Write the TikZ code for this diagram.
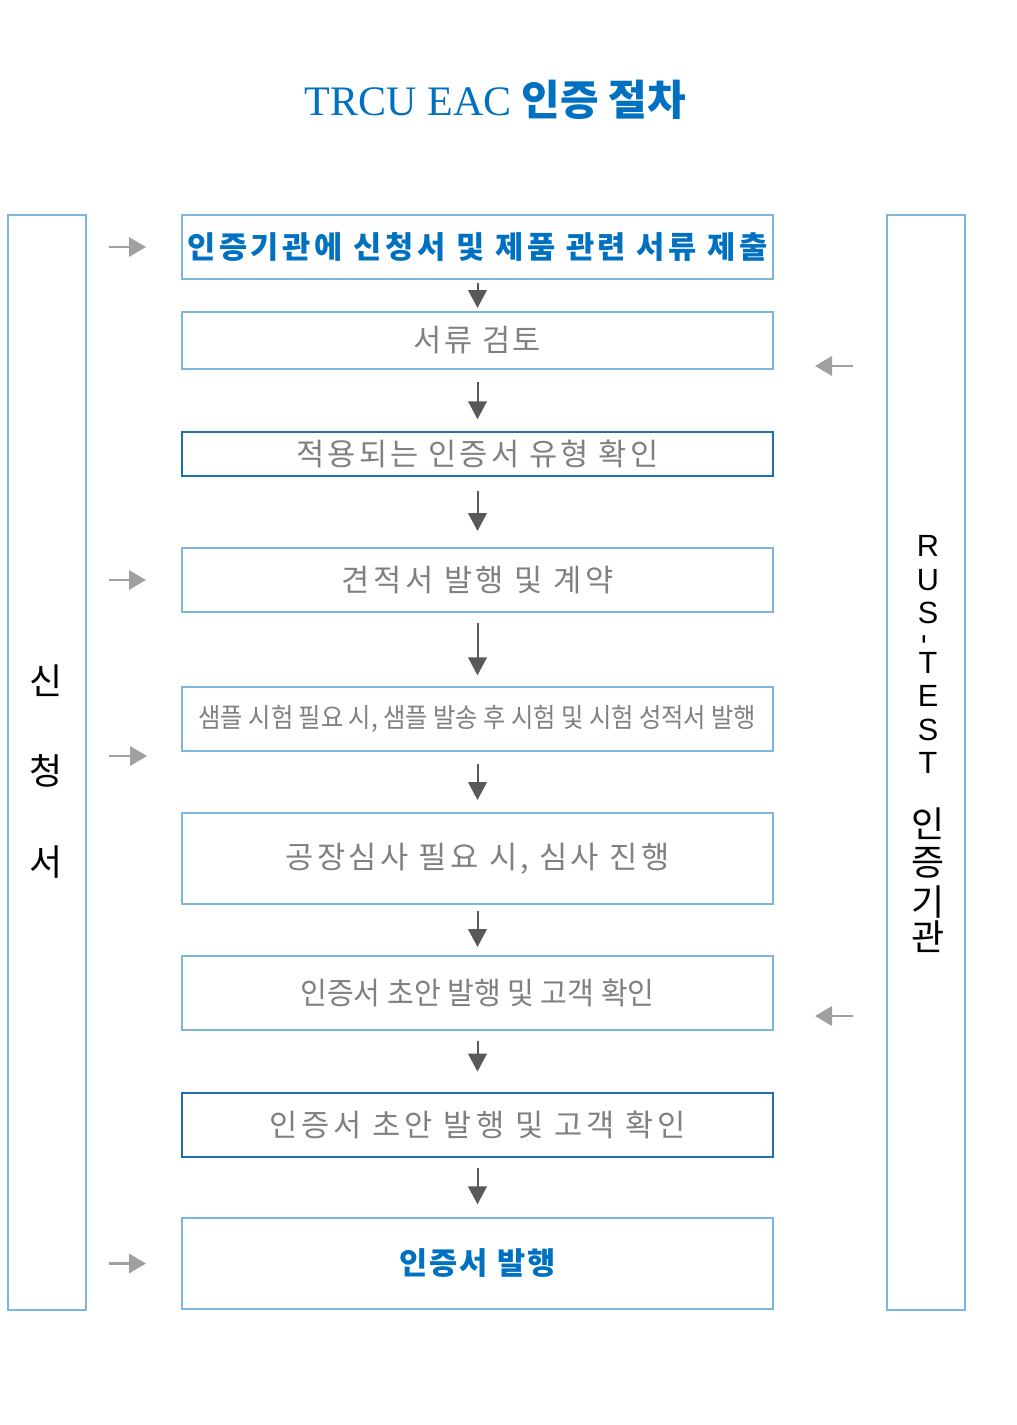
\documentclass[tikz,border=0pt]{standalone}
\usepackage{fontspec}
\setmainfont{Liberation Serif}
\setsansfont{Liberation Sans}
\newfontfamily\kr{Noto Sans CJK KR}
\usetikzlibrary{arrows.meta,positioning}

\definecolor{titleblue}{HTML}{0070C0}
\definecolor{lineblue}{HTML}{7DB6DD}
\definecolor{darkblue}{HTML}{1F6DB3}
\definecolor{txtgray}{HTML}{808080}
\definecolor{arrowdark}{HTML}{595959}
\definecolor{arrowlight}{HTML}{A0A0A0}

\tikzset{
  stepbox/.style={draw=lineblue, line width=1.5pt, minimum width=443.25pt, inner sep=0pt,
    text=txtgray, font=\kr\addfontfeature{LetterSpace=#1}\fontsize{23}{27}\selectfont},
  stepbox/.default=10,
  narrowbox/.style={stepbox, font=\kr\addfontfeature{FakeStretch=#1}\fontsize{23}{27}\selectfont},
  darkbox/.style={stepbox=#1, draw=darkblue, line width=1.1pt},
  darkbox/.default=10,
  keybox/.style={stepbox, text=titleblue,
    font=\kr\bfseries\addfontfeature{LetterSpace=#1}\fontsize{23}{27}\selectfont},
  keybox/.default=10,
  sidecol/.style={draw=lineblue, line width=1.5pt, minimum width=58.5pt, minimum height=821.25pt, inner sep=0pt},
  coltext/.style={inner sep=0pt, font=\kr\fontsize{27}{30}\selectfont},
  latintext/.style={inner sep=0pt, font=\sffamily\fontsize{23}{26}\selectfont},
  flowarrow/.style={draw=arrowdark, line width=1.5pt, -{Triangle[length=13.5pt,width=14pt]}},
  sidearrow/.style={draw=arrowlight, line width=1.8pt, -{Triangle[length=12.75pt,width=14.5pt]}},
}

\begin{document}
\begin{tikzpicture}[x=0.75pt,y=-0.75pt]
\useasboundingbox (0,0) rectangle (1017,1425);

% Title
\node[text=titleblue, font=\fontsize{31.5}{36}\selectfont] (title) at (495.5,100)
  {TRCU EAC {\kr\bfseries 인증 절차}};

% Side columns
\node[sidecol] (appl) at (47,762.5) {};
\node[sidecol] (rustest) at (926,762.5) {};
\foreach \c/\y [count=\i] in {신/681,청/771,서/862}
  \node[coltext] (s\i) at (46,\y) {\c};
\foreach \c/\y [count=\i] in {R/546,U/580,S/613,{\rotatebox{90}{-}}/639,T/663,E/696,S/730,T/763}
  \node[latintext] (r\i) at (928,\y) {\c};
\foreach \c/\y [count=\i] in {인/824,증/863,기/902,관/937}
  \node[coltext] (k\i) at (928,\y) {\c};

% Steps
\node[keybox=12, minimum height=48pt] (b1) at (477.5,247) {인증기관에 신청서 및 제품 관련 서류 제출};
\node[stepbox=8, minimum height=42.75pt] (b2) at (477.5,340.5) {서류 검토};
\node[darkbox=10, minimum height=33pt] (b3) at (477.5,454) {적용되는 인증서 유형 확인};
\node[stepbox=12, minimum height=48pt] (b4) at (477.5,580) {견적서 발행 및 계약};
\node[stepbox, minimum height=48pt, font=\kr\addfontfeature{FakeStretch=0.91}\fontsize{20}{24}\selectfont]
  (b5) at (477.5,719) {샘플 시험 필요 시, 샘플 발송 후 시험 및 시험 성적서 발행};
\node[stepbox=11, minimum height=68.25pt] (b6) at (477.5,858.5) {공장심사 필요 시, 심사 진행};
\node[narrowbox=0.95, minimum height=55.5pt] (b7) at (477.5,993) {인증서 초안 발행 및 고객 확인};
\node[darkbox=13, minimum height=48pt] (b8) at (477.5,1125) {인증서 초안 발행 및 고객 확인};
\node[keybox=7, minimum height=68.25pt] (b9) at (477.5,1263.5) {인증서 발행};

% Draw arrows between steps
\foreach \a/\b/\s/\e in {b1/b2/2.25/2.25, b2/b3/9/9, b3/b4/10.5/12, b4/b5/7.5/8,
    b5/b6/9/9, b6/b7/4.5/6, b7/b8/7.5/15.5, b8/b9/7.5/9.5}
  \draw[flowarrow, shorten <=\s pt, shorten >=\e pt] (\a) -- (\b);

% Draw side arrows
\coordinate (c5) at (182,756);
\coordinate (c2) at (773,366);
\coordinate (c7) at (773,1016);
\foreach \t in {b1.west,b4.west,c5,b9.west}
  \draw[sidearrow, shorten <=16.5pt, shorten >=26.25pt] (appl.east |- \t) -- (\t);
\foreach \t in {c2,c7}
  \draw[sidearrow, shorten <=24.75pt, shorten >=31.5pt] (rustest.west |- \t) -- (\t);
\end{tikzpicture}
\end{document}
